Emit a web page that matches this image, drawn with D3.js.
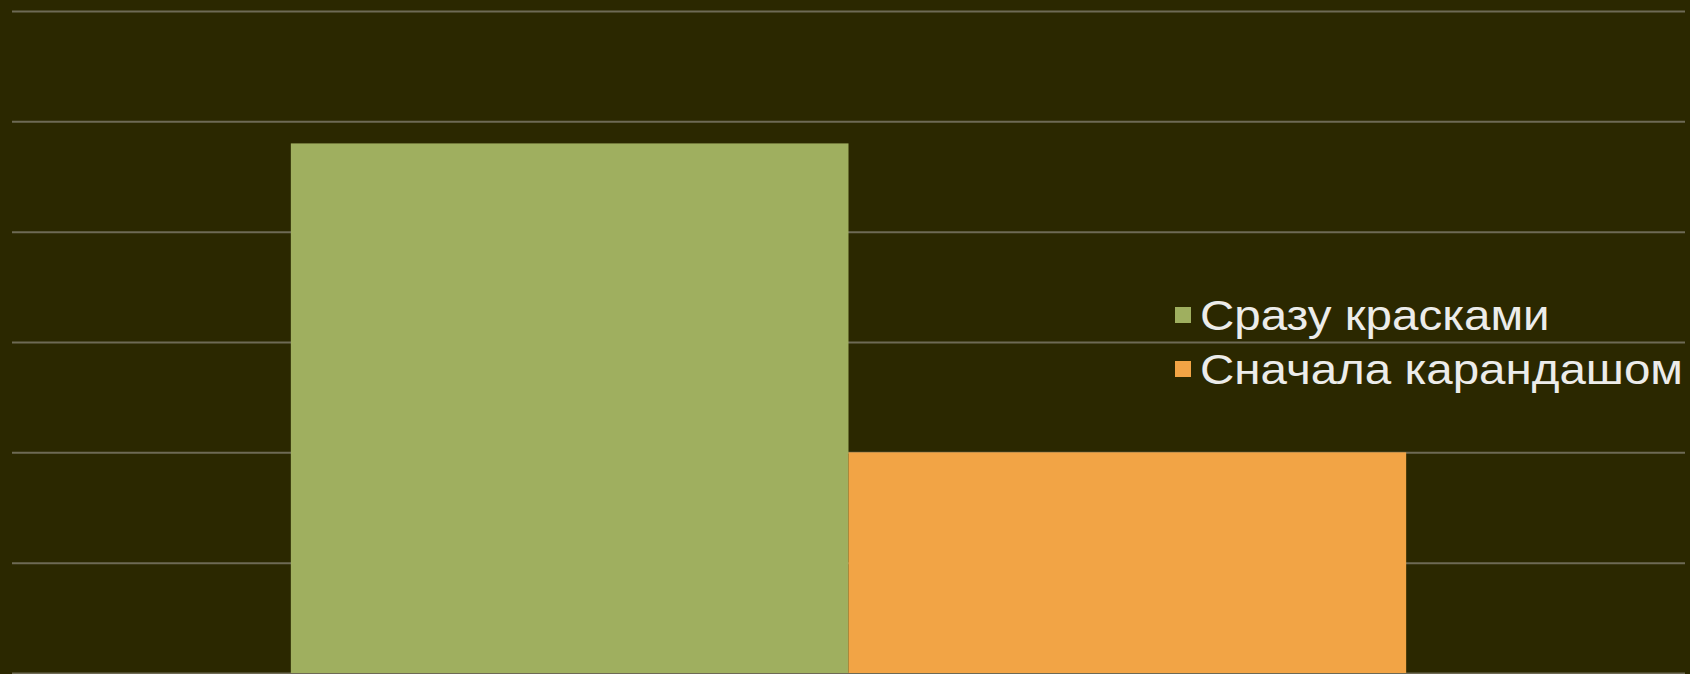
<!DOCTYPE html>
<html>
<head>
<meta charset="utf-8">
<script src="https://cdn.jsdelivr.net/npm/d3@7"></script>
<style>
  html, body { margin: 0; padding: 0; background: #2b2800; overflow: hidden; }
</style>
</head>
<body>
<div id="chart"></div>
<script>
// data
const categories = ["Способ"];
const seriesNames = ["Сразу красками", "Сначала карандашом"];
const seriesValues = [24, 10];
const yTicks = [0, 5, 10, 15, 20, 25, 30];

const colors = ["#9faf5f", "#f2a445"];

const width = 1690;
const height = 674;
const margin = { top: 11, right: 5, bottom: 1, left: 12 };

const svg = d3.select("#chart")
              .append("svg")
              .attr("width", width)
              .attr("height", height);

svg.append("rect")
   .attr("width", width)
   .attr("height", height)
   .attr("fill", "#2b2800");

const x0 = d3.scaleBand()
             .domain(categories)
             .range([ margin.left, width - margin.right ]);

// gap width 100% -> bars take 2/3 of the band
const x1 = d3.scaleBand()
             .domain(seriesNames)
             .range([ x0.bandwidth() / 6, x0.bandwidth() * 5 / 6 ]);

const yScale = d3.scaleLinear()
                 .domain([ 0, 30 ])
                 .range([ height - margin.bottom, margin.top ]);

const yAxis = d3.axisLeft(yScale)
                .tickValues(yTicks)
                .tickSize(-(width - margin.left - margin.right))
                .tickFormat("");

const grid = svg.append("g")
                .attr("transform", "translate(" + margin.left + ",0)")
                .call(yAxis);
grid.select(".domain").remove();
grid.selectAll("line")
    .attr("stroke", "#6e6a55")
    .attr("stroke-width", 2);

const group = svg.append("g")
                 .attr("transform", "translate(" + x0(categories[0]) + ",0)");

group.selectAll("rect")
     .data(seriesValues)
     .enter()
     .append("rect")
     .attr("x", (d, i) => x1(seriesNames[i]))
     .attr("y", d => yScale(d))
     .attr("width", x1.bandwidth())
     .attr("height", d => yScale(0) - yScale(d))
     .attr("fill", (d, i) => colors[i]);

// legend
const legend = svg.append("g")
                  .attr("transform", "translate(1175, 307)");

const items = legend.selectAll("g")
                    .data(seriesNames)
                    .enter()
                    .append("g")
                    .attr("transform", (d, i) => "translate(0," + i * 54 + ")");

items.append("rect")
     .attr("x", 0)
     .attr("y", 0)
     .attr("width", 16)
     .attr("height", 16)
     .attr("fill", (d, i) => colors[i]);

// the original legend font is a bit wider than Arial, stretch it slightly
items.append("text")
     .attr("transform", "translate(25,23) scale(1.105,1)")
     .text(d => d)
     .style("font-family", "Liberation Sans, Arial, sans-serif")
     .style("font-size", "43px")
     .attr("fill", "#ececea");
</script>
</body>
</html>
